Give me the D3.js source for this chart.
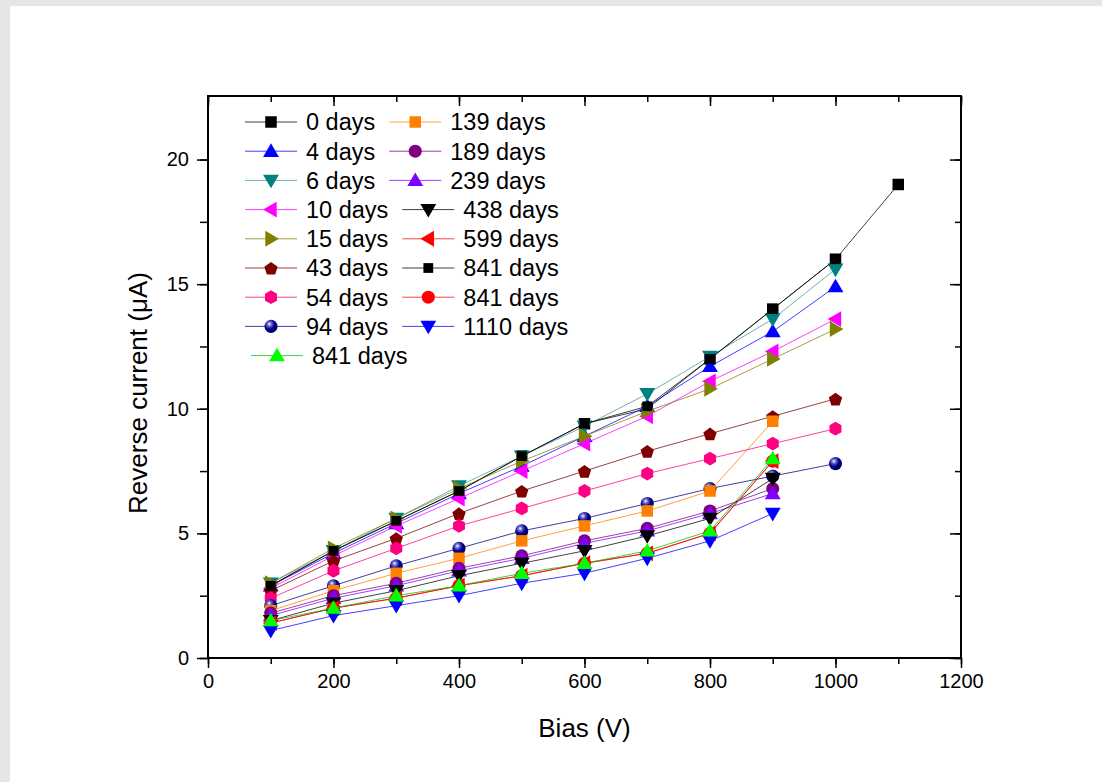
<!DOCTYPE html>
<html>
<head>
<meta charset="utf-8">
<script src="https://cdn.jsdelivr.net/npm/d3@7"></script>
<style>
  html, body { margin: 0; padding: 0; background: #e6e6e6; }
  svg { display: block; font-family: Arial, "Liberation Sans", sans-serif; }
</style>
</head>
<body>
<svg id="chart" width="1102" height="782"></svg>
<script>
// Reverse current vs. bias voltage for a detector measured over time
const bias = [100, 200, 300, 400, 500, 600, 700, 800, 900, 1000, 1100];

const d0    = [2.9, 4.3, 5.5, 6.7, 8.1, 9.4, 10.0, 12.0, 14.0, 16.0, 19.0];
const d4    = [2.9, 4.2, 5.4, 6.6, 7.7, 8.9, 10.1, 11.7, 13.1, 14.9];
const d6    = [3.0, 4.3, 5.6, 6.9, 8.1, 9.3, 10.6, 12.1, 13.6, 15.6];
const d10   = [2.8, 4.1, 5.3, 6.4, 7.5, 8.6, 9.7, 11.1, 12.3, 13.6];
const d15   = [3.0, 4.4, 5.6, 6.8, 7.9, 8.9, 9.9, 10.8, 12.0, 13.2];
const d43   = [2.7, 3.9, 4.8, 5.8, 6.7, 7.5, 8.3, 9.0, 9.7, 10.4];
const d54   = [2.4, 3.5, 4.4, 5.3, 6.0, 6.7, 7.4, 8.0, 8.6, 9.2];
const d94   = [2.1, 2.9, 3.7, 4.4, 5.1, 5.6, 6.2, 6.8, 7.3, 7.8];
const d139  = [1.9, 2.7, 3.4, 4.0, 4.7, 5.3, 5.9, 6.7, 9.5];
const d189  = [1.8, 2.5, 3.0, 3.6, 4.1, 4.7, 5.2, 5.9, 6.8];
const d239  = [1.7, 2.4, 2.9, 3.5, 4.0, 4.6, 5.1, 5.8, 6.6];
const d438  = [1.5, 2.2, 2.7, 3.3, 3.8, 4.3, 4.9, 5.6, 7.2];
const d599  = [1.4, 2.0, 2.4, 2.9, 3.3, 3.8, 4.2, 5.0, 7.9];
const d841a = [2.9, 4.3, 5.5, 6.7, 8.1, 9.4, 10.1, 12.0, 14.0, 16.0];
const d841b = [1.4, 2.0, 2.4, 2.9, 3.3, 3.8, 4.2, 5.0, 7.9];
const d1110 = [1.1, 1.7, 2.1, 2.5, 3.0, 3.4, 4.0, 4.7, 5.8];
const d841c = [1.5, 2.0, 2.5, 2.9, 3.4, 3.8, 4.3, 5.1, 8.0];

const labels = ["0 days", "4 days", "6 days", "10 days", "15 days", "43 days", "54 days", "94 days",
                "139 days", "189 days", "239 days", "438 days", "599 days", "841 days", "841 days",
                "1110 days", "841 days"];

const xTicks = [0, 200, 400, 600, 800, 1000, 1200];
const yTicks = [0, 5, 10, 15, 20];

// plotting styles per series (same order as labels)
const styles = [
  { shape: "square",   fill: "#000000", line: "#000000" },
  { shape: "triUp",    fill: "#0000ff", line: "#0000ff" },
  { shape: "triDown",  fill: "#008080", line: "#3a9a9a" },
  { shape: "triLeft",  fill: "#ff00ff", line: "#ff00ff" },
  { shape: "triRight", fill: "#808000", line: "#808000" },
  { shape: "pentagon", fill: "#800000", line: "#800000" },
  { shape: "hexagon",  fill: "#ff0080", line: "#ff0080" },
  { shape: "sphere",   fill: "#000080", line: "#000080" },
  { shape: "square",   fill: "#ff8000", line: "#ff8000" },
  { shape: "circle",   fill: "#800080", line: "#800080" },
  { shape: "triUp",    fill: "#8000ff", line: "#8000ff" },
  { shape: "triDown",  fill: "#000000", line: "#000000" },
  { shape: "triLeft",  fill: "#ff0000", line: "#ff0000" },
  { shape: "square",   fill: "#000000", line: "#000000", small: true },
  { shape: "circle",   fill: "#ff0000", line: "#ff0000" },
  { shape: "triDown",  fill: "#0000ff", line: "#0000ff" },
  { shape: "triUp",    fill: "#00ff00", line: "#00c000" }
];

const values = [d0, d4, d6, d10, d15, d43, d54, d94, d139, d189, d239, d438, d599, d841a, d841b, d1110, d841c];
const series = values.map((v, i) => ({
  label: labels[i],
  ...styles[i],
  points: v.map((yv, j) => ({ x: bias[j], y: yv }))
}));

const svg = d3.select("#chart");

// page panel
svg.append("rect").attr("x", 0).attr("y", 0).attr("width", 1102).attr("height", 782).attr("fill", "#e6e6e6");
svg.append("rect").attr("x", 10).attr("y", 6).attr("width", 1092).attr("height", 776).attr("fill", "#ffffff");

const defs = svg.append("defs");
const grad = defs.append("radialGradient").attr("id", "ball").attr("cx", "0.38").attr("cy", "0.32").attr("r", "0.7");
grad.append("stop").attr("offset", "0").attr("stop-color", "#ffffff");
grad.append("stop").attr("offset", "0.22").attr("stop-color", "#6f6fd0");
grad.append("stop").attr("offset", "0.55").attr("stop-color", "#000090");
grad.append("stop").attr("offset", "1").attr("stop-color", "#000050");

const plotL = 208, plotR = 961, plotT = 96, plotB = 658;
const xScale = d3.scaleLinear().domain([0, 1200]).range([plotL, plotR]);
const yScale = d3.scaleLinear().domain([0, 22.55]).range([plotB, plotT]);

function markerPath(shape, s) {
  const r = s / 2;
  const poly = pts => "M" + pts.map(p => p[0].toFixed(2) + "," + p[1].toFixed(2)).join("L") + "Z";
  const a = r * 1.38;
  switch (shape) {
    case "square": return poly([[-r, -r], [r, -r], [r, r], [-r, r]]);
    case "triUp": return poly([[0, -a], [a, a * 0.72], [-a, a * 0.72]]);
    case "triDown": return poly([[0, a], [a, -a * 0.72], [-a, -a * 0.72]]);
    case "triLeft": return poly([[-a, 0], [a * 0.72, -a], [a * 0.72, a]]);
    case "triRight": return poly([[a, 0], [-a * 0.72, -a], [-a * 0.72, a]]);
    case "pentagon": {
      const p = r * 1.22;
      return poly(d3.range(5).map(k => { const t = -Math.PI / 2 + k * 2 * Math.PI / 5; return [p * Math.cos(t), p * Math.sin(t) + 0.9]; }));
    }
    case "hexagon": {
      const p = r * 1.2;
      return poly(d3.range(6).map(k => { const t = -Math.PI / 2 + k * Math.PI / 3; return [p * Math.cos(t), p * Math.sin(t)]; }));
    }
    default: return null;
  }
}

function drawMarker(g, st, cx, cy, size) {
  if (st.shape === "circle" || st.shape === "sphere") {
    g.append("circle").attr("cx", cx).attr("cy", cy).attr("r", size / 2 + 0.8)
      .attr("fill", st.shape === "sphere" ? "url(#ball)" : st.fill);
  } else {
    g.append("path").attr("d", markerPath(st.shape, st.small ? size * 0.85 : size))
      .attr("transform", `translate(${cx},${cy})`).attr("fill", st.fill);
  }
}

const plot = svg.append("g");
const lineGen = d3.line().x(d => xScale(d.x)).y(d => yScale(d.y));
const MS = 11.5;

// each series: connecting line, then markers
series.forEach(s => {
  const g = plot.append("g");
  g.append("path").attr("d", lineGen(s.points)).attr("fill", "none")
    .attr("stroke", s.line).attr("stroke-width", 1).attr("stroke-opacity", 0.75);
  s.points.forEach(p => drawMarker(g, s, xScale(p.x), yScale(p.y), MS));
});

// axes: outward ticks bottom/left, inward ticks top/right
const axisFont = "20px";
const minorX = d3.range(0, 1201, 100);
const minorY = d3.range(0, 22.5, 2.5);

const gB = svg.append("g").attr("transform", `translate(0,${plotB})`);
gB.call(d3.axisBottom(xScale).tickValues(minorX).tickSize(6).tickFormat(""));
const gB2 = svg.append("g").attr("transform", `translate(0,${plotB})`)
  .call(d3.axisBottom(xScale).tickValues(xTicks).tickSize(10).tickPadding(6).tickFormat(d3.format("d")));
gB2.selectAll("text").attr("font-size", axisFont).attr("font-family", "Arial, 'Liberation Sans', sans-serif").attr("fill", "#000");

const gL = svg.append("g").attr("transform", `translate(${plotL},0)`);
gL.call(d3.axisLeft(yScale).tickValues(minorY).tickSize(8).tickFormat(""));
const gL2 = svg.append("g").attr("transform", `translate(${plotL},0)`)
  .call(d3.axisLeft(yScale).tickValues(yTicks).tickSize(11).tickPadding(8).tickFormat(d3.format("d")));
gL2.selectAll("text").attr("font-size", axisFont).attr("font-family", "Arial, 'Liberation Sans', sans-serif").attr("fill", "#000");

const gT = svg.append("g").attr("transform", `translate(0,${plotT})`);
gT.call(d3.axisTop(xScale).tickValues(minorX).tickSize(-6).tickFormat(""));
const gT2 = svg.append("g").attr("transform", `translate(0,${plotT})`);
gT2.call(d3.axisTop(xScale).tickValues(xTicks).tickSize(-10).tickFormat(""));

const gR = svg.append("g").attr("transform", `translate(${plotR},0)`);
gR.call(d3.axisRight(yScale).tickValues(minorY).tickSize(-6).tickFormat(""));
const gR2 = svg.append("g").attr("transform", `translate(${plotR},0)`);
gR2.call(d3.axisRight(yScale).tickValues(yTicks).tickSize(-11).tickFormat(""));

svg.selectAll(".tick line").attr("stroke-width", 1.5);
svg.selectAll(".domain").remove();
svg.append("rect").attr("x", plotL).attr("y", plotT).attr("width", plotR - plotL).attr("height", plotB - plotT)
  .attr("fill", "none").attr("stroke", "#000").attr("stroke-width", 2);

// axis titles
svg.append("text").attr("x", (plotL + plotR) / 2).attr("y", 737).attr("text-anchor", "middle")
  .attr("font-size", "26px").text("Bias (V)");
svg.append("text").attr("transform", "translate(147,393) rotate(-90)").attr("text-anchor", "middle")
  .attr("font-size", "26px").text("Reverse current (μA)");

// legend: two columns, the last entry on its own row
const leg = svg.append("g");
const rowY0 = 122, rowH = 29.2;
const colA = series.slice(0, 8), colB = series.slice(8, 16), extra = series[16];
function legendEntry(s, x0, yy) {
  leg.append("line").attr("x1", x0).attr("x2", x0 + 52).attr("y1", yy).attr("y2", yy)
    .attr("stroke", s.line).attr("stroke-width", 1).attr("stroke-opacity", 0.75);
  drawMarker(leg, s, x0 + 26, yy, MS);
  return leg.append("text").attr("x", x0 + 61).attr("y", yy).attr("dy", "0.36em")
    .attr("font-size", "23.5px").text(s.label);
}
colA.forEach((s, i) => {
  const yy = rowY0 + i * rowH;
  const t = legendEntry(s, 245, yy);
  const endX = 306 + t.node().getComputedTextLength();
  legendEntry(colB[i], endX + 14, yy);
});
legendEntry(extra, 251, rowY0 + 8 * rowH);
</script>
</body>
</html>
